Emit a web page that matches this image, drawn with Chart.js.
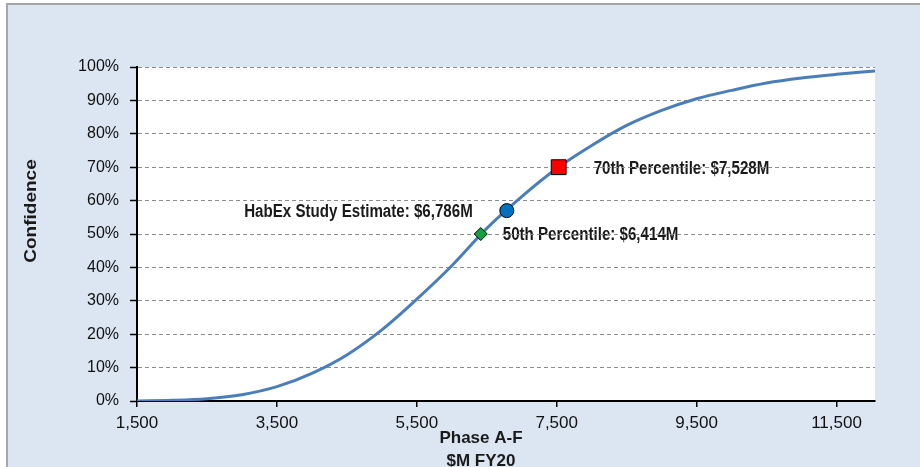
<!DOCTYPE html>
<html>
<head>
<meta charset="utf-8">
<script src="https://cdn.jsdelivr.net/npm/chart.js@4.4.1/dist/chart.umd.min.js"></script>
<style>
    html, body { margin: 0; padding: 0; background: #fff; }
    #wrap { width: 920px; height: 467px; }
</style>
</head>
<body>
<div id="wrap"><canvas id="chart" width="920" height="467"></canvas></div>
<script>
// cumulative cost distribution (S-curve)
const costs = [1500, 2000, 2500, 3000, 3500, 4000, 4500, 5000, 5500, 6000, 6500,
    7000, 7500, 8000, 8500, 9000, 9500, 10000, 10500, 11000, 11500, 12050];
const confidence = [0, 0.2, 0.7, 1.9, 4.3, 8.3, 13.8, 21.3, 30.5, 40.5, 51.7,
    61.2, 69.6, 76.5, 82.5, 87, 90.5, 93, 95.2, 96.7, 97.8, 98.8];

const markerLabels = ['50th Percentile: $6,414M', 'HabEx Study Estimate: $6,786M', '70th Percentile: $7,528M'];
const markerCosts = [6414, 6786, 7528];
const markerConfidence = [50, 57, 70];

const xTicks = [1500, 3500, 5500, 7500, 9500, 11500];
const yTicks = [0, 10, 20, 30, 40, 50, 60, 70, 80, 90, 100];

const FONT = "'Liberation Sans', Arial, sans-serif";

// narrow-ish bold text, like the Excel original
function narrowText(ctx, text, x, y, align, squeeze) {
    ctx.save();
    ctx.translate(x, y);
    ctx.scale(squeeze, 1);
    ctx.textAlign = align;
    ctx.fillText(text, 0, 0);
    ctx.restore();
}

const frame = {
    id: 'frame',
    beforeDraw(chart) {
        const { ctx, chartArea: a, width, height } = chart;
        ctx.save();
        ctx.fillStyle = '#ffffff';
        ctx.fillRect(0, 0, width, height);
        ctx.fillStyle = '#dce6f2';
        ctx.fillRect(7, 4, width - 7, height - 4);
        ctx.strokeStyle = '#a6a6a6';
        ctx.lineWidth = 2;
        ctx.beginPath();
        ctx.moveTo(7, height);
        ctx.lineTo(7, 4);
        ctx.lineTo(width, 4);
        ctx.stroke();
        ctx.fillStyle = '#ffffff';
        ctx.fillRect(a.left, a.top, a.right - a.left, a.bottom - a.top);

        // marker labels
        const xs = chart.scales.x, ys = chart.scales.y;
        ctx.font = 'bold 18px ' + FONT;
        ctx.fillStyle = '#1a1a1a';
        ctx.textBaseline = 'middle';
        const offs = [22, -34, 35];
        for (let i = 0; i < markerLabels.length; i++) {
            const px = xs.getPixelForValue(markerCosts[i]);
            const py = ys.getPixelForValue(markerConfidence[i]);
            narrowText(ctx, markerLabels[i], px + offs[i], py + 1.5, offs[i] < 0 ? 'right' : 'left', 0.84);
        }

        // axis titles
        ctx.font = 'bold 17px ' + FONT;
        ctx.textAlign = 'center';
        ctx.fillText('Phase A-F', a.left + 344, a.bottom + 37);
        ctx.fillText('$M FY20', a.left + 344, a.bottom + 60);
        ctx.save();
        ctx.translate(31, 211);
        ctx.rotate(-Math.PI / 2);
        ctx.scale(1, 0.88);
        ctx.font = 'bold 19px ' + FONT;
        ctx.fillText('Confidence', 0, 0);
        ctx.restore();
        ctx.restore();
    }
};

new Chart(document.getElementById('chart'), {
    type: 'scatter',
    data: {
        datasets: [
            {
                data: [{ x: markerCosts[0], y: markerConfidence[0] }],
                pointStyle: 'rectRot',
                pointRadius: 6.5,
                backgroundColor: '#12a040',
                borderColor: '#000',
                borderWidth: 1,
                order: 1
            },
            {
                data: [{ x: markerCosts[1], y: markerConfidence[1] }],
                pointStyle: 'circle',
                pointRadius: 7,
                backgroundColor: '#0070c0',
                borderColor: '#000',
                borderWidth: 1,
                order: 1
            },
            {
                data: [{ x: markerCosts[2], y: markerConfidence[2] }],
                pointStyle: 'rect',
                pointRadius: 10.5,
                backgroundColor: '#ff0000',
                borderColor: '#000',
                borderWidth: 1,
                order: 1
            },
            {
                data: costs.map((c, i) => ({ x: c, y: confidence[i] })),
                showLine: true,
                borderColor: '#4a7ebb',
                borderWidth: 3,
                pointRadius: 0,
                cubicInterpolationMode: 'monotone',
                order: 2
            }
        ]
    },
    options: {
        responsive: false,
        animation: false,
        events: [],
        layout: { padding: { top: 67, right: 45, left: 0, bottom: 0 } },
        plugins: { legend: { display: false }, tooltip: { enabled: false } },
        scales: {
            x: {
                type: 'linear',
                min: 1500,
                max: 12050,
                afterBuildTicks: (scale) => { scale.ticks = xTicks.map(v => ({ value: v })); },
                afterFit: (scale) => { scale.height = 66; },
                ticks: {
                    font: { family: FONT, size: 17 },
                    color: '#111',
                    padding: 6,
                    maxRotation: 0,
                    autoSkip: false,
                    callback: (v) => v.toLocaleString('en-US')
                },
                grid: { drawOnChartArea: false, drawTicks: true, tickLength: 6, color: '#000', lineWidth: 1.5 },
                border: { display: true, color: '#000', width: 2 }
            },
            y: {
                min: 0,
                max: 100,
                afterBuildTicks: (scale) => { scale.ticks = yTicks.map(v => ({ value: v })); },
                afterFit: (scale) => { scale.width = 137; },
                ticks: {
                    font: { family: FONT, size: 16 },
                    color: '#111',
                    padding: 11,
                    callback: (v) => v + '%'
                },
                grid: { color: '#8c8c8c', lineWidth: 1, tickLength: 7, tickColor: '#000', tickWidth: 1.5 },
                border: { display: true, color: '#000', width: 2, dash: [4, 3] }
            }
        }
    },
    plugins: [frame]
});
</script>
</body>
</html>
